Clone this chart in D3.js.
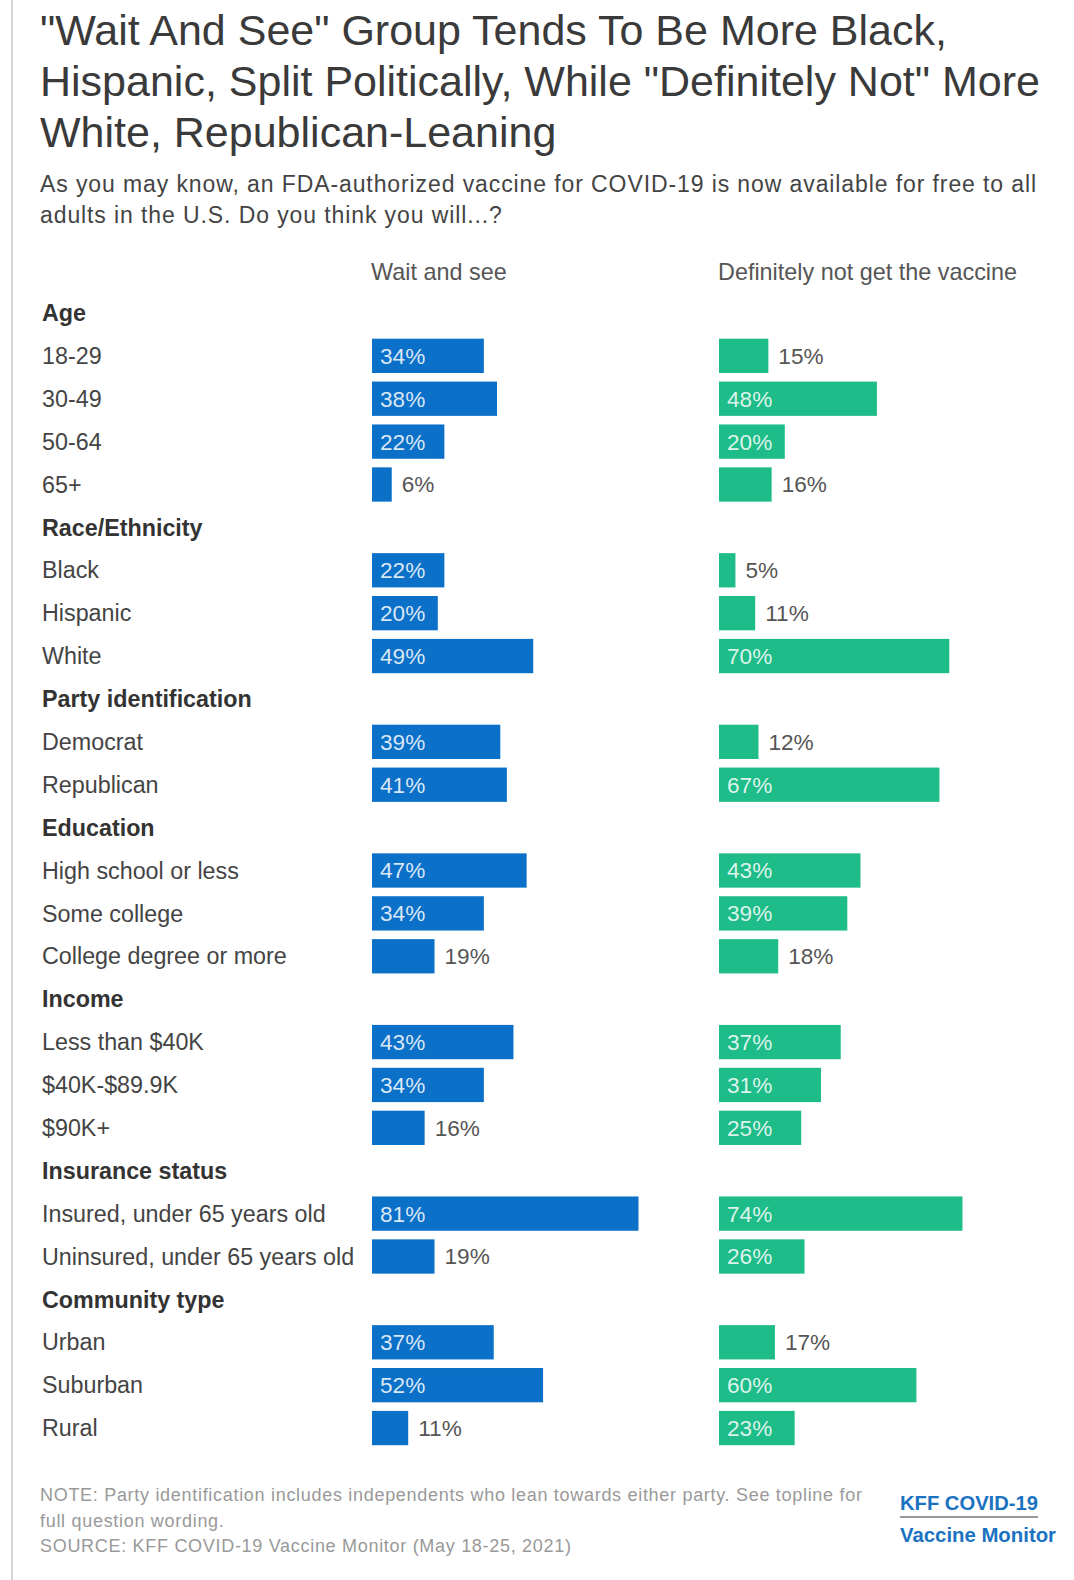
<!DOCTYPE html>
<html>
<head>
<meta charset="utf-8">
<script src="https://cdn.jsdelivr.net/npm/d3@7"></script>
<style>
  body { margin: 0; background: #fff; }
  svg text { font-family: "Liberation Sans", Arial, sans-serif; }
</style>
</head>
<body>
<svg id="chart" width="1074" height="1580"></svg>
<script>
const titleLines = [
  '"Wait And See" Group Tends To Be More Black,',
  'Hispanic, Split Politically, While "Definitely Not" More',
  'White, Republican-Leaning'
];
const subtitleLines = [
  'As you may know, an FDA-authorized vaccine for COVID-19 is now available for free to all',
  'adults in the U.S. Do you think you will...?'
];
const seriesNames = ['Wait and see', 'Definitely not get the vaccine'];

const groups = ['Age', 'Race/Ethnicity', 'Party identification', 'Education', 'Income', 'Insurance status', 'Community type'];
const categories = [
  ['18-29', '30-49', '50-64', '65+'],
  ['Black', 'Hispanic', 'White'],
  ['Democrat', 'Republican'],
  ['High school or less', 'Some college', 'College degree or more'],
  ['Less than $40K', '$40K-$89.9K', '$90K+'],
  ['Insured, under 65 years old', 'Uninsured, under 65 years old'],
  ['Urban', 'Suburban', 'Rural']
];
const waitAndSee = [
  [34, 38, 22, 6],
  [22, 20, 49],
  [39, 41],
  [47, 34, 19],
  [43, 34, 16],
  [81, 19],
  [37, 52, 11]
];
const definitelyNot = [
  [15, 48, 20, 16],
  [5, 11, 70],
  [12, 67],
  [43, 39, 18],
  [37, 31, 25],
  [74, 26],
  [17, 60, 23]
];
const noteLines = [
  'NOTE: Party identification includes independents who lean towards either party. See topline for',
  'full question wording.',
  'SOURCE: KFF COVID-19 Vaccine Monitor (May 18-25, 2021)'
];

const blue = '#0b70c8';
const green = '#1ebc89';

// flatten groups + categories into one list of rows
const rows = [];
groups.forEach((g, gi) => {
  rows.push({key: 'g' + gi, label: g, header: true});
  categories[gi].forEach((c, ci) => {
    rows.push({key: gi + '-' + ci, label: c, header: false,
      values: [waitAndSee[gi][ci], definitelyNot[gi][ci]]});
  });
});

const svg = d3.select('#chart');

svg.append('line')
  .attr('x1', 12).attr('x2', 12)
  .attr('y1', 0).attr('y2', 1580)
  .attr('stroke', '#d4d4d4')
  .attr('stroke-width', 2);

svg.append('g').selectAll('text')
  .data(titleLines)
  .join('text')
  .attr('x', 40)
  .attr('y', (d, i) => 45 + i * 51)
  .attr('font-size', 43)
  .attr('fill', '#3a3a3a')
  .text(d => d);

svg.append('g').selectAll('text')
  .data(subtitleLines)
  .join('text')
  .attr('x', 40)
  .attr('y', (d, i) => 192 + i * 31)
  .attr('font-size', 23)
  .attr('letter-spacing', 0.9)
  .attr('fill', '#444')
  .text(d => d);

const y = d3.scaleBand()
  .domain(rows.map(d => d.key))
  .range([291.5, 1449.5]);

const barH = 34.3;
const x = [
  d3.scaleLinear().domain([0, 100]).range([372, 701]),
  d3.scaleLinear().domain([0, 100]).range([719, 1048])
];
const colors = [blue, green];

svg.append('g').selectAll('text')
  .data(seriesNames)
  .join('text')
  .attr('x', (d, i) => x[i](0) - 1)
  .attr('y', 280)
  .attr('font-size', 23.4)
  .attr('fill', '#555')
  .text(d => d);

const rowG = svg.append('g').selectAll('g')
  .data(rows)
  .join('g')
  .attr('transform', d => 'translate(0,' + (y(d.key) + y.bandwidth() / 2) + ')');

rowG.append('text')
  .attr('x', 42)
  .attr('dy', '0.35em')
  .attr('font-size', 23.3)
  .attr('font-weight', d => d.header ? 'bold' : 'normal')
  .attr('fill', d => d.header ? '#333' : '#444')
  .text(d => d.label);

[0, 1].forEach(s => {
  const bars = rowG.filter(d => !d.header);

  bars.append('rect')
    .attr('x', x[s](0))
    .attr('y', -barH / 2)
    .attr('width', d => x[s](d.values[s]) - x[s](0))
    .attr('height', barH)
    .attr('fill', colors[s]);

  bars.append('text')
    .attr('x', d => d.values[s] >= 20 ? x[s](0) + 8 : x[s](d.values[s]) + 10)
    .attr('dy', '0.35em')
    .attr('font-size', 22.6)
    .attr('fill', d => d.values[s] >= 20 ? '#fff' : '#555')
    .attr('fill-opacity', d => d.values[s] >= 20 ? 0.85 : 1)
    .text(d => d.values[s] + '%');
});

svg.append('g').selectAll('text')
  .data(noteLines)
  .join('text')
  .attr('x', 40)
  .attr('y', (d, i) => 1501 + i * 25.5)
  .attr('font-size', 18)
  .attr('letter-spacing', 0.7)
  .attr('fill', '#999')
  .text(d => d);

const logo = svg.append('g');
logo.append('text')
  .attr('x', 900).attr('y', 1510)
  .attr('font-size', 21)
  .attr('font-weight', 'bold')
  .attr('fill', '#1a72c0')
  .attr('textLength', 138)
  .attr('lengthAdjust', 'spacingAndGlyphs')
  .text('KFF COVID-19');
logo.append('line')
  .attr('x1', 900).attr('x2', 1038)
  .attr('y1', 1517).attr('y2', 1517)
  .attr('stroke', '#777')
  .attr('stroke-width', 1.5);
logo.append('text')
  .attr('x', 900).attr('y', 1542)
  .attr('font-size', 21)
  .attr('font-weight', 'bold')
  .attr('fill', '#1a72c0')
  .attr('textLength', 156)
  .attr('lengthAdjust', 'spacingAndGlyphs')
  .text('Vaccine Monitor');
</script>
</body>
</html>
